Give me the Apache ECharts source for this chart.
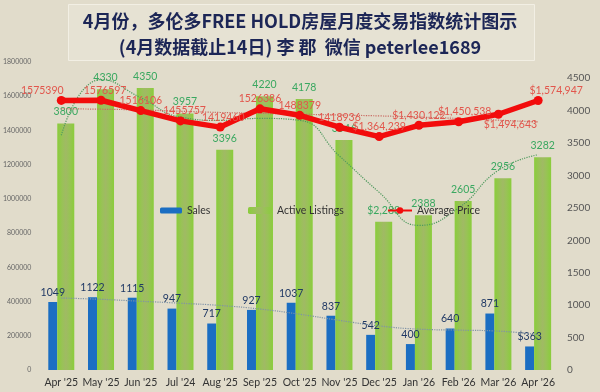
<!DOCTYPE html>
<html><head><meta charset="utf-8">
<script src="https://cdn.jsdelivr.net/npm/echarts@6/dist/echarts.min.js"></script>
<style>html,body{margin:0;padding:0;background:#e1dccb}#c{width:600px;height:392px}</style>
</head><body><div id="c"></div>
<script>
const categories = ["Apr '25","May '25","Jun '25","Jul '24","Aug '25","Sep '25","Oct '25","Nov '25","Dec '25","Jan '26","Feb '26","Mar '26","Apr '26"];
const sales = [1049,1122,1115,947,717,927,1037,837,542,400,640,871,363];
const listings = [3800,4330,4350,3957,3396,4220,4178,3546,2288,2388,2605,2956,3282];
const avgPrice = [1575390,1576597,1516106,1455757,1419460,1526386,1488379,1418936,1364239,1430122,1450538,1494643,1574947];
const salesTrend = [1110,1090,1060,1030,995,940,860,765,680,630,615,600,545];
const listingsTrend = [3620,4480,4200,3900,3850,3880,3850,3300,2740,2230,2500,3080,3320];
const priceTrend = [1527000,1524000,1520000,1512000,1505000,1500000,1495000,1490000,1485000,1478000,1470000,1460000,1450000];
const leftTicks = {min:0, max:1800000, interval:200000};
const rightTicks = {min:0, max:4750, interval:500};

// label placement (style only)
const priceLabelDx = [-19,4,0,4,3,0,0,0,0,0,6,12,18];
const priceLabelPos = ['top','top','top','top','top','top','top','top','top','top','top','bottom','top'];
const dollarFrom = 8;

const fmtMoney = v => '$' + Number(v).toLocaleString('en-US');
const font = 'Lato, "Open Sans", sans-serif';

const chart = echarts.init(document.getElementById('c'), null, {renderer:'canvas'});
chart.setOption({
  backgroundColor: '#e1dccb',
  animation: false,
  graphic: [{
    type: 'rect', left: 68, top: 4, z: -1,
    shape: {width: 466, height: 56},
    style: {fill: '#e6e2d3', stroke: '#f2efe4', lineWidth: 1}
  }],
  title: [{
    text: '4月份，多伦多FREE HOLD房屋月度交易指数统计图示',
    left: 'center', top: 7,
    textStyle: {fontSize: 18, fontWeight: 'bold', color: '#1c2656', fontFamily: '"Noto Sans CJK SC", "Noto Sans", sans-serif'}
  },{
    text: '(4月数据截止14日) 李 郡  微信 peterlee1689',
    left: 'center', top: 33,
    textStyle: {fontSize: 18, fontWeight: 'bold', color: '#1c2656', fontFamily: '"Noto Sans CJK SC", "Noto Sans", sans-serif'}
  }],
  legend: [
    {left: 160, top: 205, padding: 0, itemWidth: 22, itemHeight: 6, itemGap: 5, data: ['Sales'], textStyle: {fontSize: 10.5, color: '#333', fontFamily: font}},
    {left: 248, top: 205, padding: 0, itemWidth: 24, itemHeight: 7, data: ['Active Listings'], textStyle: {fontSize: 10.5, color: '#333', fontFamily: font}},
    {left: 387, top: 205, padding: 0, itemWidth: 24, itemHeight: 8, data: ['Average Price'], textStyle: {fontSize: 10.5, color: '#333', fontFamily: font}}
  ],
  grid: {left: 38, right: 42, top: 62, bottom: 22, containLabel: false},
  xAxis: {
    type: 'category', data: categories,
    axisLine: {show: false}, axisTick: {show: false},
    axisLabel: {fontSize: 10.5, color: '#333', margin: 7, fontFamily: font, interval: 0}
  },
  yAxis: [{
    type: 'value', min: leftTicks.min, max: leftTicks.max, interval: leftTicks.interval,
    splitLine: {show: false}, axisLine: {show: false}, axisTick: {show: false},
    axisLabel: {fontSize: 7, color: '#666', margin: 10, fontFamily: font, formatter: v => String(v)}
  },{
    type: 'value', min: rightTicks.min, max: rightTicks.max, interval: rightTicks.interval,
    splitLine: {show: false}, axisLine: {show: false}, axisTick: {show: false},
    axisLabel: {fontSize: 10, color: '#555', margin: 9, fontFamily: font, showMaxLabel: false, formatter: v => String(v)}
  }],
  series: [{
    name: 'Sales', type: 'bar', yAxisIndex: 1, data: sales,
    barWidth: 9, barGap: '0%',
    itemStyle: {color: '#1b6ec2'},
    label: {show: true, position: 'top', distance: 4, fontSize: 10.5, color: '#1f3864', fontFamily: font,
      formatter: p => p.dataIndex === sales.length - 1 ? '$' + p.value : String(p.value)}
  },{
    name: 'Active Listings', type: 'bar', yAxisIndex: 1, data: listings,
    barWidth: 17, barGap: '0%',
    itemStyle: {color: new echarts.graphic.LinearGradient(0,0,1,0,[
      {offset:0,color:'#8acd3b'},{offset:0.3,color:'#99c257'},{offset:0.5,color:'#a0ba64'},{offset:0.7,color:'#99c257'},{offset:1,color:'#8acd3b'}])},
    label: {show: true, position: 'top', distance: 6, fontSize: 10.5, color: '#3aa860', fontFamily: font,
      formatter: p => p.dataIndex === dollarFrom ? fmtMoney(p.value) : String(p.value)}
  },{
    name: 'salesTrend', type: 'line', yAxisIndex: 1, data: salesTrend, smooth: true,
    showSymbol: false, symbol: 'none', silent: true,
    lineStyle: {type: 'dotted', width: 1.2, color: '#7f93a6'}, z: 3
  },{
    name: 'listingsTrend', type: 'line', yAxisIndex: 1, data: listingsTrend, smooth: true,
    showSymbol: false, symbol: 'none', silent: true,
    lineStyle: {type: 'dotted', width: 1.2, color: '#4f9a5e'}, z: 3
  },{
    name: 'priceTrend', type: 'line', yAxisIndex: 0, data: priceTrend, smooth: true,
    showSymbol: false, symbol: 'none', silent: true,
    lineStyle: {type: 'dotted', width: 1.2, color: '#c96a62'}, z: 3
  },{
    name: 'Average Price', type: 'line', yAxisIndex: 0,
    data: avgPrice.map((v, i) => ({value: v, label: {position: priceLabelPos[i], offset: [priceLabelDx[i], 0]}})),
    symbol: 'circle', symbolSize: 9,
    lineStyle: {width: 5.5, color: '#f20c0c'},
    itemStyle: {color: '#f20c0c'},
    z: 5,
    label: {show: true, distance: 0, fontSize: 10.5, color: '#e2564c', fontFamily: font,
      formatter: p => p.dataIndex >= dollarFrom ? fmtMoney(p.value) : String(p.value)}
  }]
});
</script>
</body></html>
